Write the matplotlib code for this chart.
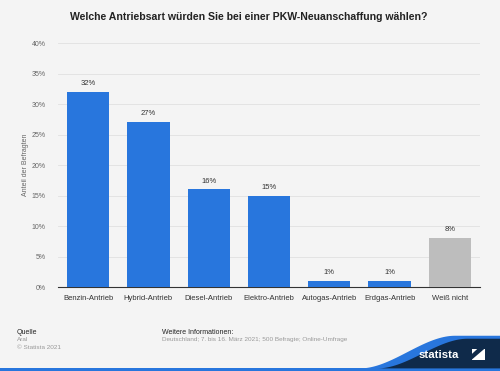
import matplotlib.pyplot as plt
import numpy as np
from matplotlib.patches import Polygon, Rectangle

plt.rcParams["font.family"] = ["Liberation Sans", "DejaVu Sans"]

categories = ["Benzin-Antrieb", "Hybrid-Antrieb", "Diesel-Antrieb", "Elektro-Antrieb",
              "Autogas-Antrieb", "Erdgas-Antrieb", "Weiß nicht"]
values = [32, 27, 16, 15, 1, 1, 8]
colors = ["#2876dd"] * 6 + ["#bdbdbd"]
yticks = [0, 5, 10, 15, 20, 25, 30, 35, 40]

bg = "#f4f4f4"
fig = plt.figure(figsize=(5, 3.71), dpi=100, facecolor=bg)
ax = fig.add_axes([0.116, 0.2264, 0.844, 0.6576], facecolor=bg)

x = np.arange(len(categories))
bars = ax.bar(x, values, width=0.7, color=colors, zorder=3)
for b, v in zip(bars, values):
    ax.text(b.get_x() + b.get_width() / 2, v + 0.8, f"{v}%", ha="center", va="bottom",
            fontsize=5.5, color="#333333")

ax.set_xlim(-0.5, len(categories) - 0.5)
ax.set_ylim(0, 40)
ax.set_yticks(yticks)
ax.set_yticklabels([f"{t}%" for t in yticks], fontsize=5, color="#666666")
ax.set_xticks(x)
ax.set_xticklabels(categories, fontsize=5.5, color="#333333")
ax.tick_params(axis="both", length=0, pad=6)
ax.tick_params(axis="y", pad=9)
ax.grid(axis="y", color="#e0e0e0", linewidth=0.6, zorder=0)
for s in ["top", "right", "left"]:
    ax.spines[s].set_visible(False)
ax.spines["bottom"].set_color("#333333")
ax.spines["bottom"].set_linewidth(0.8)
ax.set_ylabel("Anteil der Befragten", fontsize=5, color="#666666")
ax.yaxis.set_label_coords(-0.068, 0.5)

fig.text(0.498, 0.953, "Welche Antriebsart würden Sie bei einer PKW-Neuanschaffung wählen?",
         ha="center", va="center", fontsize=7.6, fontweight="bold", color="#222222")

# footer
fig.text(0.034, 0.105, "Quelle", fontsize=5, color="#222222", va="center")
fig.text(0.034, 0.085, "Aral", fontsize=4.6, color="#999999", va="center")
fig.text(0.034, 0.064, "© Statista 2021", fontsize=4.6, color="#999999", va="center")
fig.text(0.324, 0.105, "Weitere Informationen:", fontsize=5, color="#222222", va="center")
fig.text(0.324, 0.085, "Deutschland; 7. bis 16. März 2021; 500 Befragte; Online-Umfrage",
         fontsize=4.6, color="#999999", va="center")

# statista logo area
tf = fig.transFigure
fig.patches.append(Rectangle((0, 0), 1, 0.007, transform=tf, facecolor="#2876dd",
                             edgecolor="none"))
tt = np.linspace(0, 1, 50)
s = 3 * tt ** 2 - 2 * tt ** 3
xs = 0.72 + 0.19 * tt
ys = 0.007 + 0.088 * s
blue = list(zip(xs, ys)) + [(1, 0.095), (1, 0.0), (0.70, 0.0)]
fig.patches.append(Polygon(blue, closed=True, transform=tf,
                           facecolor="#2876dd", edgecolor="none"))
xs2 = 0.755 + 0.18 * tt
ys2 = 0.007 + 0.080 * s
dark = list(zip(xs2, ys2)) + [(1, 0.087), (1, 0.007)]
fig.patches.append(Polygon(dark, closed=True, transform=tf,
                           facecolor="#0f2a4a", edgecolor="none"))
fig.text(0.917, 0.044, "statista", fontsize=8.2, fontweight="bold", color="white",
         ha="right", va="center")
fig.patches.append(Rectangle((0.943, 0.03), 0.026, 0.03, transform=tf,
                             facecolor="white", edgecolor="none"))
fig.patches.append(Polygon([(0.943, 0.03), (0.969, 0.06), (0.955, 0.06), (0.943, 0.045)],
                           closed=True, transform=tf,
                           facecolor="#0f2a4a", edgecolor="none"))

fig.savefig("out.png", dpi=100, facecolor=bg)
